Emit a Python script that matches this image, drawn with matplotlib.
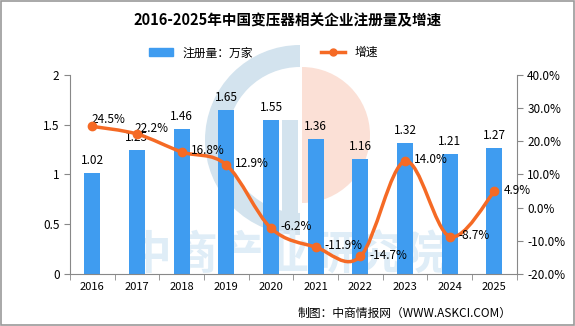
import matplotlib
matplotlib.use("Agg")
import matplotlib.pyplot as plt
from matplotlib.path import Path
from matplotlib.patches import PathPatch, Wedge, Rectangle
from matplotlib.lines import Line2D

plt.rcParams['font.family'] = ['Noto Sans CJK SC', 'DejaVu Sans']

years = ["2016", "2017", "2018", "2019", "2020", "2021", "2022", "2023", "2024", "2025"]
counts = [1.02, 1.25, 1.46, 1.65, 1.55, 1.36, 1.16, 1.32, 1.21, 1.27]
growth = [24.5, 22.2, 16.8, 12.9, -6.2, -11.9, -14.7, 14.0, -8.7, 4.9]

BAR = "#3f9cf0"
LINE = "#f56a25"

fig = plt.figure(figsize=(5.75, 3.26), dpi=100)

# faint watermark logo
bg = fig.add_axes([0, 0, 1, 1], zorder=-5)
bg.set_xlim(0, 575)
bg.set_ylim(326, 0)
bg.axis("off")
bg.add_patch(Wedge((300, 140), 95, 90, 270, width=22, color="#d3e3ee", ec="none"))
bg.add_patch(Rectangle((282, 120), 16, 95, color="#d3e3ee", ec="none"))
bg.add_patch(Wedge((302, 135), 68, -90, 90, color="#fbe0d6", ec="none"))
bg.text(287, 256, "中商产业研究院", fontsize=33, fontweight="bold", color="#dfedf7",
        ha="center", va="center")
bg.add_patch(Rectangle((1, 1), 573, 324, fill=False, ec="#999999", lw=1.2))

ax = fig.add_axes([0.1217, 0.1595, 0.777, 0.6105])
ax.patch.set_alpha(0)
x = list(range(len(years)))
ax.bar(x, counts, width=0.36, color=BAR, zorder=2)
for i, v in enumerate(counts):
    ax.text(i, v + 0.06, f"{v:.2f}", ha="center", va="bottom", fontsize=8.5)
ax.set_xlim(-0.5, len(years) - 0.5)
ax.set_ylim(0, 2)
ax.set_yticks([0, 0.5, 1, 1.5, 2])
ax.set_yticklabels(["0", "0.5", "1", "1.5", "2"])
ax.set_xticks(x)
ax.set_xticklabels(years)
ax.set_xticks([i + 0.5 for i in range(-1, len(years))], minor=True)
ax.tick_params(axis="x", which="major", length=0, labelsize=8, pad=6)
ax.tick_params(axis="x", which="minor", length=4, color="#888888")
ax.tick_params(axis="y", labelsize=8.5, length=4, color="#888888")
for s in ["top", "right"]:
    ax.spines[s].set_visible(False)
ax.spines["left"].set_color("#888888")
ax.spines["bottom"].set_color("#888888")

ax2 = ax.twinx()
ax2.set_ylim(-20, 40)
ax2.set_yticks([-20, -10, 0, 10, 20, 30, 40])
ax2.set_yticklabels([f"{t:.1f}%" for t in [-20, -10, 0, 10, 20, 30, 40]])
ax2.tick_params(axis="y", labelsize=8.5, length=4, color="#888888")
for s in ["top", "left", "bottom"]:
    ax2.spines[s].set_visible(False)
ax2.spines["right"].set_color("#888888")

# smoothed curve through the growth points (Catmull-Rom as cubic Bezier)
pts = list(zip(x, growth))
verts = [pts[0]]
codes = [Path.MOVETO]
for i in range(len(pts) - 1):
    p0 = pts[i - 1] if i > 0 else pts[i]
    p1 = pts[i]
    p2 = pts[i + 1]
    p3 = pts[i + 2] if i + 2 < len(pts) else pts[i + 1]
    c1 = (p1[0] + (p2[0] - p0[0]) / 6, p1[1] + (p2[1] - p0[1]) / 6)
    c2 = (p2[0] - (p3[0] - p1[0]) / 6, p2[1] - (p3[1] - p1[1]) / 6)
    verts += [c1, c2, p2]
    codes += [Path.CURVE4] * 3
ax2.add_patch(PathPatch(Path(verts, codes), fill=False, ec=LINE, lw=2.5, zorder=3))
ax2.plot(x, growth, "o", color=LINE, ms=6, zorder=4)
# label offsets (x in categories, y in %)
offs = {0: (-0.02, 2.0), 1: (-0.05, 1.6)}
for i, g in enumerate(growth):
    dx, dy = offs.get(i, (0.2, 0.4))
    ax2.text(i + dx, g + dy, f"{g:.1f}%", ha="left", va="center", fontsize=8.5)

fig.text(0.5, 0.938, "2016-2025年中国变压器相关企业注册量及增速", ha="center", va="center",
         fontsize=10.5, fontweight="bold")

handles = [Rectangle((0, 0), 1, 1, color=BAR),
           Line2D([0], [0], color=LINE, lw=2.5, marker="o", ms=5)]
fig.legend(handles, ["注册量：万家", "增速"], loc="center", bbox_to_anchor=(0.458, 0.838),
           ncol=2, frameon=False, fontsize=8.5, columnspacing=5.8, handlelength=2.0)

fig.text(0.89, 0.04, "制图：中商情报网（WWW.ASKCI.COM）", ha="right", va="center", fontsize=8.5)

fig.savefig("out.png", dpi=100)
